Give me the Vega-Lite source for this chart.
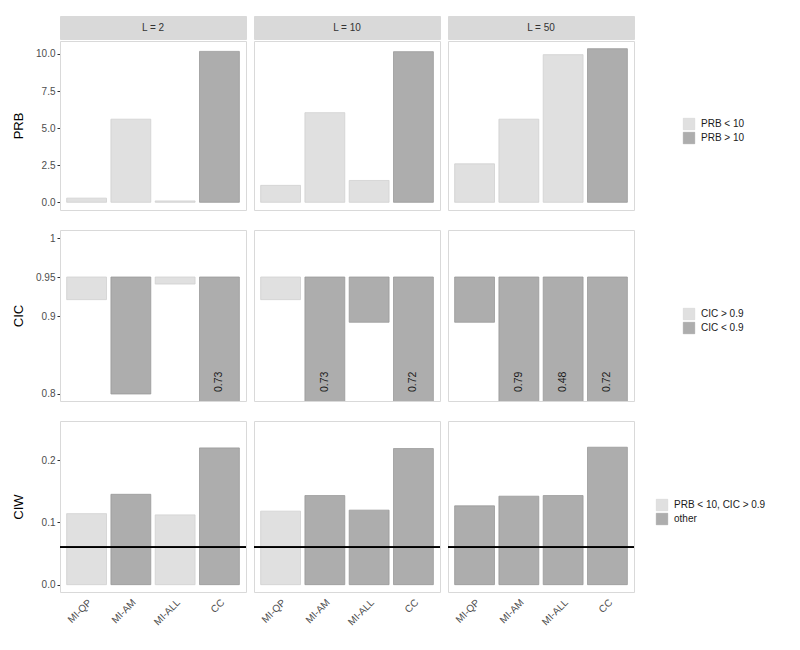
{
  "$schema": "https://vega.github.io/schema/vega-lite/v6.json",
  "padding": {"left": 12, "top": 15, "right": 0, "bottom": 0},
  "background": "white",
  "config": {
    "font": "Liberation Sans",
    "view": {"stroke": "#d9d9d9", "strokeWidth": 1},
    "axis": {"grid": false, "domain": false, "tickColor": "#333333", "tickSize": 3, "labelColor": "#4d4d4d", "labelFontSize": 10, "titleFontSize": 13, "titleFontWeight": "normal", "titleColor": "#000000", "labelPadding": 2},
    "legend": {"labelFontSize": 10, "labelColor": "#1a1a1a", "symbolType": "square", "symbolSize": 132, "rowPadding": 0, "labelOffset": 6, "symbolStrokeWidth": 0.5, "symbolStrokeColor": "#b5b5b5"}
  },
  "datasets": {
    "d": [
      {"metric": "PRB", "L": 2, "method": "MI-QP", "value": 0.28, "cat": "PRB < 10"},
      {"metric": "PRB", "L": 2, "method": "MI-AM", "value": 5.60, "cat": "PRB < 10"},
      {"metric": "PRB", "L": 2, "method": "MI-ALL", "value": 0.09, "cat": "PRB < 10"},
      {"metric": "PRB", "L": 2, "method": "CC", "value": 10.17, "cat": "PRB > 10"},
      {"metric": "PRB", "L": 10, "method": "MI-QP", "value": 1.14, "cat": "PRB < 10"},
      {"metric": "PRB", "L": 10, "method": "MI-AM", "value": 6.04, "cat": "PRB < 10"},
      {"metric": "PRB", "L": 10, "method": "MI-ALL", "value": 1.47, "cat": "PRB < 10"},
      {"metric": "PRB", "L": 10, "method": "CC", "value": 10.15, "cat": "PRB > 10"},
      {"metric": "PRB", "L": 50, "method": "MI-QP", "value": 2.59, "cat": "PRB < 10"},
      {"metric": "PRB", "L": 50, "method": "MI-AM", "value": 5.60, "cat": "PRB < 10"},
      {"metric": "PRB", "L": 50, "method": "MI-ALL", "value": 9.95, "cat": "PRB < 10"},
      {"metric": "PRB", "L": 50, "method": "CC", "value": 10.35, "cat": "PRB > 10"},
      {"metric": "CIC", "L": 2, "method": "MI-QP", "value": 0.921, "cat": "CIC > 0.9"},
      {"metric": "CIC", "L": 2, "method": "MI-AM", "value": 0.80, "cat": "CIC < 0.9"},
      {"metric": "CIC", "L": 2, "method": "MI-ALL", "value": 0.941, "cat": "CIC > 0.9"},
      {"metric": "CIC", "L": 2, "method": "CC", "value": 0.73, "cat": "CIC < 0.9"},
      {"metric": "CIC", "L": 10, "method": "MI-QP", "value": 0.921, "cat": "CIC > 0.9"},
      {"metric": "CIC", "L": 10, "method": "MI-AM", "value": 0.73, "cat": "CIC < 0.9"},
      {"metric": "CIC", "L": 10, "method": "MI-ALL", "value": 0.892, "cat": "CIC < 0.9"},
      {"metric": "CIC", "L": 10, "method": "CC", "value": 0.72, "cat": "CIC < 0.9"},
      {"metric": "CIC", "L": 50, "method": "MI-QP", "value": 0.892, "cat": "CIC < 0.9"},
      {"metric": "CIC", "L": 50, "method": "MI-AM", "value": 0.79, "cat": "CIC < 0.9"},
      {"metric": "CIC", "L": 50, "method": "MI-ALL", "value": 0.48, "cat": "CIC < 0.9"},
      {"metric": "CIC", "L": 50, "method": "CC", "value": 0.72, "cat": "CIC < 0.9"},
      {"metric": "CIW", "L": 2, "method": "MI-QP", "value": 0.114, "cat": "PRB < 10, CIC > 0.9"},
      {"metric": "CIW", "L": 2, "method": "MI-AM", "value": 0.145, "cat": "other"},
      {"metric": "CIW", "L": 2, "method": "MI-ALL", "value": 0.112, "cat": "PRB < 10, CIC > 0.9"},
      {"metric": "CIW", "L": 2, "method": "CC", "value": 0.2195, "cat": "other"},
      {"metric": "CIW", "L": 10, "method": "MI-QP", "value": 0.118, "cat": "PRB < 10, CIC > 0.9"},
      {"metric": "CIW", "L": 10, "method": "MI-AM", "value": 0.143, "cat": "other"},
      {"metric": "CIW", "L": 10, "method": "MI-ALL", "value": 0.1196, "cat": "other"},
      {"metric": "CIW", "L": 10, "method": "CC", "value": 0.2185, "cat": "other"},
      {"metric": "CIW", "L": 50, "method": "MI-QP", "value": 0.1265, "cat": "other"},
      {"metric": "CIW", "L": 50, "method": "MI-AM", "value": 0.142, "cat": "other"},
      {"metric": "CIW", "L": 50, "method": "MI-ALL", "value": 0.143, "cat": "other"},
      {"metric": "CIW", "L": 50, "method": "CC", "value": 0.2206, "cat": "other"}
    ],
    "strip": [
      {"L": 2, "lab": "L = 2"},
      {"L": 10, "lab": "L = 10"},
      {"L": 50, "lab": "L = 50"}
    ]
  },
  "spacing": 18,
  "resolve": {"scale": {"fill": "independent", "stroke": "independent"}},
  "vconcat": [
    {
      "spacing": 0,
      "resolve": {"scale": {"fill": "independent", "stroke": "independent"}},
      "vconcat": [
        {
          "data": {"name": "strip"},
          "facet": {"column": {"field": "L", "type": "ordinal", "header": null}},
          "spacing": 8,
          "bounds": "flush",
          "spec": {
            "width": 186,
            "height": 23,
            "view": {"fill": "#d9d9d9", "stroke": "#d9d9d9"},
            "mark": {"type": "text", "fontSize": 10, "fontWeight": "normal", "fill": "#333333"},
            "encoding": {"text": {"field": "lab", "type": "nominal"}}
          }
        },
        {
          "data": {"name": "d"},
          "transform": [{"filter": "datum.metric == 'PRB'"}],
          "facet": {"column": {"field": "L", "type": "ordinal", "header": null}},
          "spacing": 8,
          "bounds": "flush",
          "spec": {
            "width": 186,
            "height": 169,
            "mark": {"type": "bar", "strokeWidth": 0.8},
            "encoding": {
              "x": {"field": "method", "type": "nominal", "sort": ["MI-QP", "MI-AM", "MI-ALL", "CC"], "axis": null, "scale": {"paddingInner": 0.1, "paddingOuter": 0.15}},
              "y": {"field": "value", "type": "quantitative", "scale": {"domain": [-0.52, 10.87], "nice": false, "zero": false}, "axis": {"title": "PRB", "values": [0, 2.5, 5, 7.5, 10], "format": ".1f", "titleX": -35}},
              "fill": {"field": "cat", "type": "nominal", "scale": {"domain": ["PRB < 10", "PRB > 10"], "range": ["#e0e0e0", "#adadad"]}, "legend": {"title": null, "orient": "none", "legendX": 623, "legendY": 77}},
              "stroke": {"field": "cat", "type": "nominal", "scale": {"domain": ["PRB < 10", "PRB > 10"], "range": ["#d0d0d0", "#999999"]}, "legend": null}
            }
          }
        }
      ]
    },
    {
      "data": {"name": "d"},
      "transform": [{"filter": "datum.metric == 'CIC'"}],
      "facet": {"column": {"field": "L", "type": "ordinal", "header": null}},
      "spacing": 8,
      "bounds": "flush",
      "spec": {
        "width": 186,
        "height": 171,
        "encoding": {
          "x": {"field": "method", "type": "nominal", "sort": ["MI-QP", "MI-AM", "MI-ALL", "CC"], "axis": null, "scale": {"paddingInner": 0.1, "paddingOuter": 0.15}}
        },
        "layer": [
          {
            "mark": {"type": "bar", "strokeWidth": 0.8, "clip": true},
            "encoding": {
              "y": {"field": "value", "type": "quantitative", "scale": {"domain": [0.791, 1.0103], "nice": false, "zero": false}, "axis": {"title": "CIC", "values": [0.8, 0.9, 0.95, 1], "format": "~g", "titleX": -35}},
              "y2": {"datum": 0.95},
              "fill": {"field": "cat", "type": "nominal", "scale": {"domain": ["CIC > 0.9", "CIC < 0.9"], "range": ["#e0e0e0", "#adadad"]}, "legend": {"title": null, "orient": "none", "legendX": 623, "legendY": 78}},
              "stroke": {"field": "cat", "type": "nominal", "scale": {"domain": ["CIC > 0.9", "CIC < 0.9"], "range": ["#d0d0d0", "#999999"]}, "legend": null}
            }
          },
          {
            "transform": [{"filter": "datum.value < 0.795"}],
            "mark": {"type": "text", "angle": 270, "align": "left", "baseline": "middle", "dx": 2, "fontSize": 10.5, "fill": "#1a1a1a"},
            "encoding": {
              "y": {"datum": 0.8},
              "text": {"field": "value", "type": "quantitative", "format": ".2f"}
            }
          }
        ]
      }
    },
    {
      "data": {"name": "d"},
      "transform": [{"filter": "datum.metric == 'CIW'"}],
      "facet": {"column": {"field": "L", "type": "ordinal", "header": null}},
      "spacing": 8,
      "bounds": "flush",
      "spec": {
        "width": 186,
        "height": 171,
        "layer": [
          {
            "mark": {"type": "bar", "strokeWidth": 0.8},
            "encoding": {
              "x": {"field": "method", "type": "nominal", "sort": ["MI-QP", "MI-AM", "MI-ALL", "CC"], "scale": {"paddingInner": 0.1, "paddingOuter": 0.15}, "axis": {"title": null, "labelAngle": -45, "ticks": false, "labelPadding": 5, "labelFontSize": 10}},
              "y": {"field": "value", "type": "quantitative", "scale": {"domain": [-0.0118, 0.2627], "nice": false, "zero": false}, "axis": {"title": "CIW", "values": [0, 0.1, 0.2], "format": ".1f", "titleX": -35}},
              "fill": {"field": "cat", "type": "nominal", "scale": {"domain": ["PRB < 10, CIC > 0.9", "other"], "range": ["#e0e0e0", "#adadad"]}, "legend": {"title": null, "orient": "none", "legendX": 596, "legendY": 78}},
              "stroke": {"field": "cat", "type": "nominal", "scale": {"domain": ["PRB < 10, CIC > 0.9", "other"], "range": ["#d0d0d0", "#999999"]}, "legend": null}
            }
          },
          {
            "mark": {"type": "rule", "color": "#000000", "strokeWidth": 1.5},
            "encoding": {"y": {"datum": 0.06}}
          }
        ]
      }
    }
  ]
}
